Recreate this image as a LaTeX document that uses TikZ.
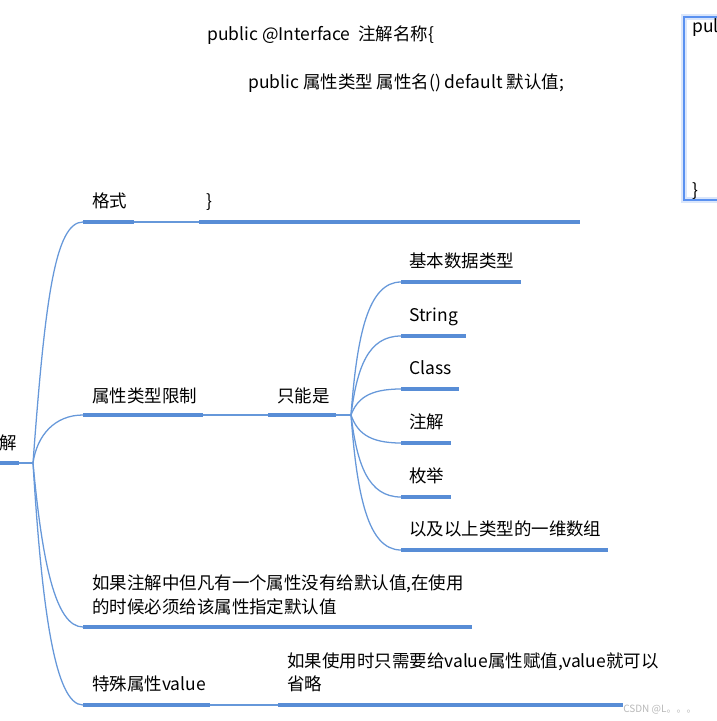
\documentclass[tikz,border=0pt]{standalone}
\usepackage{fontspec}
\setmainfont{Noto Sans CJK SC}
\definecolor{barc}{RGB}{88,141,214}
\definecolor{linec}{RGB}{102,152,218}
\definecolor{boxc}{RGB}{90,145,240}
\begin{document}
\begin{tikzpicture}[x=0.75pt,y=-0.75pt,
  conn/.style={draw=linec, line width=0.95pt},
  bar/.style={draw=barc, line width=3pt},
  lbl/.style={anchor=base west, inner sep=0pt, font=\fontsize{13.1}{15}\selectfont, text=black},
  wm/.style={anchor=base west, inner sep=0pt, font=\fontsize{7.5}{8}\selectfont, text=gray!55}]
\useasboundingbox[fill=white] (0,0) rectangle (717,721);

% top texts
\node[lbl] (top1) at (207,40) {public @Interface\ \ 注解名称\{};
\node[lbl] (top2) at (248,88) {public 属性类型 属性名() default 默认值;};

% top-right box
\draw[draw=boxc, opacity=0.22, line width=4.5pt] (684,17) rectangle (730,200);
\draw[draw=boxc, line width=1.2pt] (684,17) rectangle (730,200);
\node[lbl] (boxt1) at (692,32) {pul};
\node[lbl] (boxt2) at (692,196) {\}};

% root
\coordinate (r0) at (0,463);
\coordinate (r1) at (19,463);
\coordinate (hub) at (33,463);
\node[lbl] (root) at (-1,449) {解};
\draw[bar] (r0) -- (r1);
\draw[conn] (r1) -- (hub);

% branch: 格式
\coordinate (a0) at (83,222);
\coordinate (a1) at (134,222);
\coordinate (a2) at (199,222);
\coordinate (a3) at (580,222);
\draw[conn] (hub) .. controls (45,300) and (55,222) .. (a0);
\draw[bar] (a0) -- (a1);
\draw[conn] (a1) -- (a2);
\draw[bar] (a2) -- (a3);
\node[lbl] (ta) at (92,207) {格式};
\node[lbl] (tab) at (206,207) {\}};

% branch: 属性类型限制
\coordinate (b0) at (83,415);
\coordinate (b1) at (203,415);
\coordinate (b2) at (268,415);
\coordinate (b3) at (336,415);
\coordinate (hub2) at (351,415);
\draw[conn] (hub) .. controls (37,435) and (55,415) .. (b0);
\draw[bar] (b0) -- (b1);
\draw[conn] (b1) -- (b2);
\draw[bar] (b2) -- (b3);
\draw[conn] (b3) -- (hub2);
\node[lbl] (tb) at (92,402) {属性类型限制};
\node[lbl] (tb2) at (277,402) {只能是};

% sub branches
\foreach \n/\y/\e/\t in {s1/282/521/基本数据类型, s2/336/466/String, s3/389/459/Class, s4/443/451/注解, s5/497/451/枚举, s6/550/608/以及以上类型的一维数组}{
  \coordinate (\n a) at (401,\y);
  \coordinate (\n b) at (\e,\y);
  \pgfmathsetmacro{\cy}{415-0.6*(415-\y)}
  \draw[conn] (hub2) .. controls (357,\cy) and (368,\y) .. (\n a);
  \draw[bar] (\n a) -- (\n b);
  \node[lbl] (\n t) at (409,\y-15) {\t};
}

% branch: 如果注解中...
\coordinate (c0) at (83,627);
\coordinate (c1) at (472,627);
\draw[conn] (hub) .. controls (42,560) and (55,627) .. (c0);
\draw[bar] (c0) -- (c1);
\node[lbl] (tc1) at (92,589) {如果注解中但凡有一个属性没有给默认值,在使用};
\node[lbl] (tc2) at (92,613) {的时候必须给该属性指定默认值};

% branch: 特殊属性value
\coordinate (d0) at (83,705);
\coordinate (d1) at (210,705);
\coordinate (d2) at (278,705);
\coordinate (d3) at (623,705);
\draw[conn] (hub) .. controls (42,610) and (55,705) .. (d0);
\draw[bar] (d0) -- (d1);
\draw[conn] (d1) -- (d2);
\draw[bar] (d2) -- (d3);
\node[lbl] (td) at (92,690) {特殊属性value};
\node[lbl] (td1) at (287,667) {如果使用时只需要给value属性赋值,value就可以};
\node[lbl] (td2) at (287,690) {省略};

% watermark
\node[wm] (wmk) at (623,712) {CSDN @L。。。};
\end{tikzpicture}
\end{document}
